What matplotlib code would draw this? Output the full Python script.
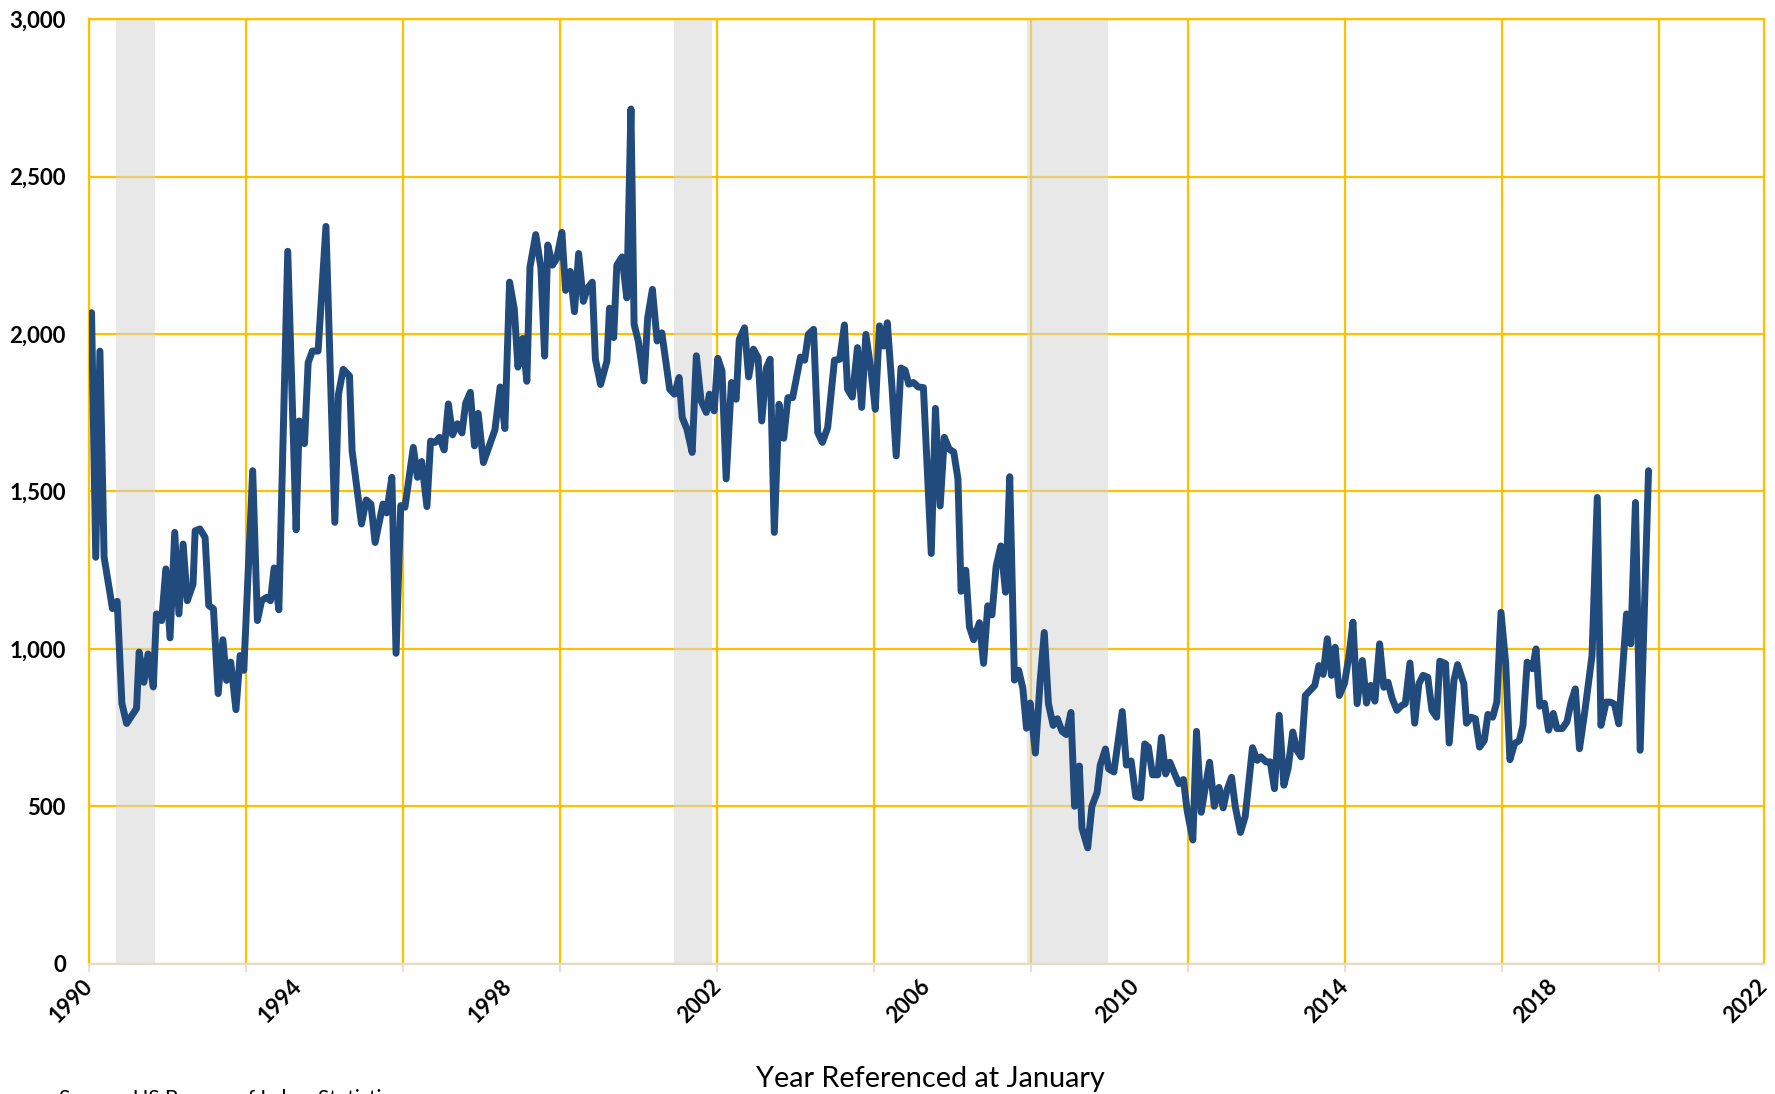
#!/usr/bin/env python3

import matplotlib
import matplotlib.pyplot as plt
import numpy as np

matplotlib.use('Agg')

plt.rcParams['font.family'] = ['Lato', 'DejaVu Sans']

# values (decimal year, value)
years = [
    1990.04, 1990.12, 1990.20, 1990.28, 1990.44, 1990.53, 1990.62, 1990.71, 1990.90, 1990.95,
    1991.04, 1991.12, 1991.22, 1991.28, 1991.38, 1991.46, 1991.54, 1991.63, 1991.71, 1991.79,
    1991.87, 1991.98, 1992.02, 1992.11, 1992.21, 1992.28, 1992.37, 1992.46, 1992.55, 1992.62,
    1992.70, 1992.80, 1992.88, 1992.95, 1993.12, 1993.21, 1993.29, 1993.39, 1993.46, 1993.53,
    1993.62, 1993.79, 1993.95, 1994.01, 1994.11, 1994.18, 1994.26, 1994.37, 1994.52, 1994.69,
    1994.76, 1994.85, 1994.97, 1995.02, 1995.20, 1995.29, 1995.38, 1995.46, 1995.61, 1995.68,
    1995.78, 1995.86, 1995.95, 1996.03, 1996.19, 1996.27, 1996.35, 1996.45, 1996.52, 1996.61,
    1996.69, 1996.78, 1996.86, 1996.94, 1997.03, 1997.12, 1997.19, 1997.28, 1997.36, 1997.43,
    1997.53, 1997.75, 1997.85, 1997.94, 1998.03, 1998.12, 1998.19, 1998.28, 1998.36, 1998.42,
    1998.53, 1998.63, 1998.70, 1998.76, 1998.85, 1998.93, 1999.03, 1999.10, 1999.19, 1999.27,
    1999.35, 1999.44, 1999.52, 1999.61, 1999.67, 1999.77, 1999.89, 1999.94, 2000.02, 2000.08,
    2000.18, 2000.27, 2000.35, 2000.41, 2000.49, 2000.60, 2000.67, 2000.76, 2000.85, 2000.94,
    2001.09, 2001.18, 2001.27, 2001.33, 2001.42, 2001.52, 2001.60, 2001.69, 2001.79, 2001.85,
    2001.94, 2002.01, 2002.09, 2002.17, 2002.27, 2002.36, 2002.42, 2002.52, 2002.60, 2002.69,
    2002.78, 2002.85, 2002.94, 2003.01, 2003.09, 2003.18, 2003.27, 2003.35, 2003.44, 2003.59,
    2003.67, 2003.74, 2003.84, 2003.92, 2004.01, 2004.11, 2004.24, 2004.34, 2004.43, 2004.49,
    2004.58, 2004.68, 2004.76, 2004.84, 2004.94, 2005.02, 2005.10, 2005.18, 2005.25, 2005.34,
    2005.42, 2005.51, 2005.59, 2005.66, 2005.75, 2005.84, 2005.94, 2006.09, 2006.17, 2006.26,
    2006.34, 2006.43, 2006.52, 2006.60, 2006.66, 2006.75, 2006.82, 2006.90, 2007.01, 2007.09,
    2007.17, 2007.25, 2007.33, 2007.42, 2007.51, 2007.59, 2007.68, 2007.76, 2007.84, 2007.91,
    2007.98, 2008.08, 2008.17, 2008.25, 2008.33, 2008.42, 2008.50, 2008.59, 2008.67, 2008.76,
    2008.83, 2008.92, 2008.97, 2009.08, 2009.16, 2009.26, 2009.32, 2009.42, 2009.48, 2009.58,
    2009.74, 2009.82, 2009.91, 2010.00, 2010.09, 2010.17, 2010.24, 2010.32, 2010.42, 2010.49,
    2010.57, 2010.65, 2010.75, 2010.82, 2010.91, 2010.98, 2011.09, 2011.16, 2011.25, 2011.33,
    2011.41, 2011.50, 2011.59, 2011.67, 2011.74, 2011.83, 2011.90, 2012.00, 2012.09, 2012.23,
    2012.32, 2012.39, 2012.49, 2012.57, 2012.65, 2012.74, 2012.83, 2012.91, 2013.00, 2013.08,
    2013.16, 2013.24, 2013.33, 2013.42, 2013.50, 2013.58, 2013.66, 2013.74, 2013.81, 2013.89,
    2013.99, 2014.08, 2014.15, 2014.23, 2014.33, 2014.41, 2014.49, 2014.57, 2014.66, 2014.74,
    2014.82, 2014.90, 2014.99, 2015.08, 2015.15, 2015.24, 2015.33, 2015.41, 2015.49, 2015.58,
    2015.66, 2015.75, 2015.81, 2015.92, 2015.99, 2016.08, 2016.15, 2016.27, 2016.32, 2016.41,
    2016.49, 2016.57, 2016.66, 2016.73, 2016.82, 2016.90, 2016.98, 2017.07, 2017.15, 2017.24,
    2017.33, 2017.40, 2017.48, 2017.58, 2017.65, 2017.72, 2017.81, 2017.89, 2017.98, 2018.05,
    2018.15, 2018.24, 2018.32, 2018.40, 2018.48, 2018.58, 2018.72, 2018.82, 2018.89, 2018.99,
    2019.07, 2019.15, 2019.23, 2019.38, 2019.46, 2019.55, 2019.64, 2019.80,
]
values = [
    2068, 1291, 1946, 1291, 1128, 1151, 827, 763, 811, 990,
    894, 984, 879, 1111, 1090, 1254, 1035, 1370, 1111, 1333,
    1153, 1206, 1375, 1381, 1354, 1138, 1127, 858, 1029, 900,
    958, 807, 979, 932, 1566, 1090, 1153, 1164, 1153, 1257,
    1124, 2263, 1378, 1724, 1652, 1909, 1946, 1946, 2342, 1402,
    1809, 1888, 1867, 1629, 1397, 1473, 1460, 1338, 1460, 1432,
    1545, 986, 1455, 1450, 1640, 1545, 1595, 1452, 1660, 1656,
    1672, 1632, 1778, 1680, 1715, 1686, 1780, 1815, 1645, 1748,
    1592, 1696, 1832, 1700, 2165, 2080, 1895, 1986, 1850, 2213,
    2316, 2210, 1930, 2283, 2219, 2240, 2323, 2139, 2199, 2071,
    2256, 2104, 2146, 2165, 1920, 1840, 1914, 2082, 1989, 2219,
    2245, 2115, 2715, 2031, 1978, 1851, 2052, 2142, 1978, 2004,
    1825, 1809, 1862, 1735, 1698, 1624, 1931, 1788, 1751, 1809,
    1756, 1923, 1883, 1540, 1846, 1793, 1983, 2020, 1864, 1952,
    1925, 1724, 1893, 1920, 1370, 1777, 1669, 1798, 1798, 1927,
    1917, 1999, 2015, 1687, 1656, 1703, 1917, 1920, 2029, 1825,
    1800, 1957, 1767, 1999, 1883, 1761, 2026, 1962, 2036, 1830,
    1613, 1892, 1885, 1841, 1846, 1832, 1830, 1303, 1764, 1454,
    1672, 1635, 1625, 1540, 1183, 1250, 1070, 1029, 1083, 954,
    1137, 1108, 1262, 1327, 1180, 1547, 901, 932, 876, 748,
    828, 669, 895, 1052, 826, 757, 778, 738, 728, 798,
    500, 628, 431, 368, 500, 544, 631, 682, 619, 609,
    801, 631, 644, 531, 527, 698, 688, 600, 600, 719,
    603, 640, 600, 572, 585, 487, 393, 738, 481, 562,
    640, 500, 560, 495, 550, 592, 500, 417, 467, 686,
    646, 657, 641, 641, 556, 789, 567, 620, 736, 678,
    657, 852, 868, 884, 947, 919, 1032, 916, 1005, 852,
    891, 984, 1085, 826, 963, 828, 884, 834, 1016, 878,
    894, 842, 805, 820, 826, 955, 764, 889, 916, 910,
    805, 783, 961, 953, 701, 900, 950, 889, 764, 783,
    778, 688, 709, 792, 783, 831, 1116, 953, 648, 699,
    709, 757, 958, 937, 1000, 818, 827, 742, 795, 747,
    747, 768, 831, 873, 683, 799, 979, 1481, 757, 831,
    831, 824, 762, 1111, 1016, 1465, 678, 1566,
]

recession_start = [1990.5, 2001.17, 2007.92]
recession_end = [1991.25, 2001.9, 2009.46]

label_years = list(range(1990, 2023, 4))
grid_years = list(range(1990, 2021, 3))
y_ticks = [0, 500, 1000, 1500, 2000, 2500, 3000]
y_labels = ['0', '500', '1,000', '1,500', '2,000', '2,500', '3,000']

gold = '#FFC000'

fig = plt.figure(figsize=(17.75, 10.94), dpi=100)
ax = fig.add_axes([0.0504, 0.1191, 0.9432, 0.8633])

ax.set_xlim(1990, 2022)
ax.set_ylim(0, 3000)

# gridlines every 3 years, labels every 4 years
ax.xaxis.remove_overlapping_locs = False
ax.set_yticks(y_ticks)
ax.set_yticklabels(y_labels, fontsize=16, fontweight='bold')
ax.set_xticks(grid_years)
ax.set_xticklabels([''] * len(grid_years))
ax.set_xticks(label_years, minor=True)
ax.set_xticklabels([str(y) for y in label_years], minor=True, rotation=45,
                   ha='right', va='center', rotation_mode='anchor',
                   fontsize=16, fontweight='bold')
ax.grid(True, which='major', color=gold, linewidth=1.6)
ax.set_axisbelow(True)

ax.tick_params(axis='y', length=0, pad=17)
ax.tick_params(axis='x', which='major', length=6, width=1.2, color='#D9D9D9', direction='out')
ax.tick_params(axis='x', which='minor', length=0, pad=14)

for side in ['left', 'top', 'right']:
    ax.spines[side].set_color(gold)
    ax.spines[side].set_linewidth(1.6)
ax.spines['bottom'].set_color('#E2DACB')
ax.spines['bottom'].set_linewidth(1.6)

# recession shading
for start, end in zip(recession_start, recession_end):
    ax.axvspan(start, end, color='#D6D6D6', alpha=0.55, linewidth=0, zorder=1.5)

ax.plot(years, values, color='#214A7D', linewidth=5, solid_joinstyle='round',
        solid_capstyle='round', zorder=3)

fig.text(0.524, 1 - 1079 / 1094, 'Year Referenced at January', ha='center', va='center',
         fontsize=20.8)
fig.text(59 / 1775, 1 - 1089 / 1094, 'Source: US Bureau of Labor Statistics', ha='left',
         va='top', fontsize=15)

plt.savefig('out.png', dpi=100)
